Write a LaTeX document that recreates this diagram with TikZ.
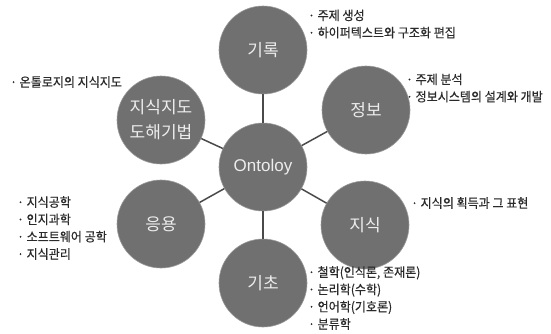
\documentclass[tikz,border=0pt]{standalone}
\usepackage{fontspec}
\setmainfont{Liberation Sans}
\newfontfamily\kr{Noto Sans CJK KR}
\newfontfamily\krnote[FakeStretch=0.94,FakeBold=0.4]{Noto Sans CJK KR}
\definecolor{discfill}{HTML}{707070}
\definecolor{discrim}{HTML}{9A9A9A}
\definecolor{disctext}{HTML}{EDEDED}
\definecolor{spokeline}{HTML}{4A4A4A}
\definecolor{notetext}{HTML}{2A2A2A}
\begin{document}
\begin{tikzpicture}[x=1pt,y=-1pt,
  disc/.style={circle, fill=discfill, draw=discrim, line width=0.6pt,
    minimum size=88pt, inner sep=0pt, text=disctext, align=center,
    font=\kr\fontsize{17}{25}\selectfont},
  spoke/.style={draw=spokeline, line width=1.5pt},
  note/.style={anchor=west, inner sep=0pt, align=left, text=notetext,
    font=\krnote\fontsize{12.8}{17.3}\selectfont}]
\useasboundingbox (0,0) rectangle (551,333);

% hub and the six topic discs
\node[disc, font=\fontsize{17}{20}\selectfont] (onto) at (263,167) {Ontoloy};
\node[disc] (rec)  at (263,50)  {기록};
\node[disc] (info) at (366,110) {정보};
\node[disc] (know) at (365,225) {지식};
\node[disc] (base) at (263,283) {기초};
\node[disc] (app)  at (161,224) {응용};
\node[disc] (map)  at (161,120) {지식지도\\도해기법};

% spokes from the hub
\foreach \t in {rec,info,know,base,app,map}
  \draw[spoke] (onto) -- (\t);

% notes beside each disc
\node[note] (recnote)  at (308,24)  {· 주제 생성\\· 하이퍼텍스트와 구조화 편집};
\node[note] (infonote) at (406,88)  {· 주제 분석\\· 정보시스템의 설계와 개발};
\node[note] (knownote) at (411,203) {· 지식의 획득과 그 표현};
\node[note] (basenote) at (308,298) {· 철학(인식론, 존재론)\\· 논리학(수학)\\· 언어학(기호론)\\· 분류학};
\node[note] (appnote)  at (17,228)  {· 지식공학\\· 인지과학\\· 소프트웨어 공학\\· 지식관리};
\node[note] (mapnote)  at (10,82)   {· 온톨로지의 지식지도};
\end{tikzpicture}
\end{document}
